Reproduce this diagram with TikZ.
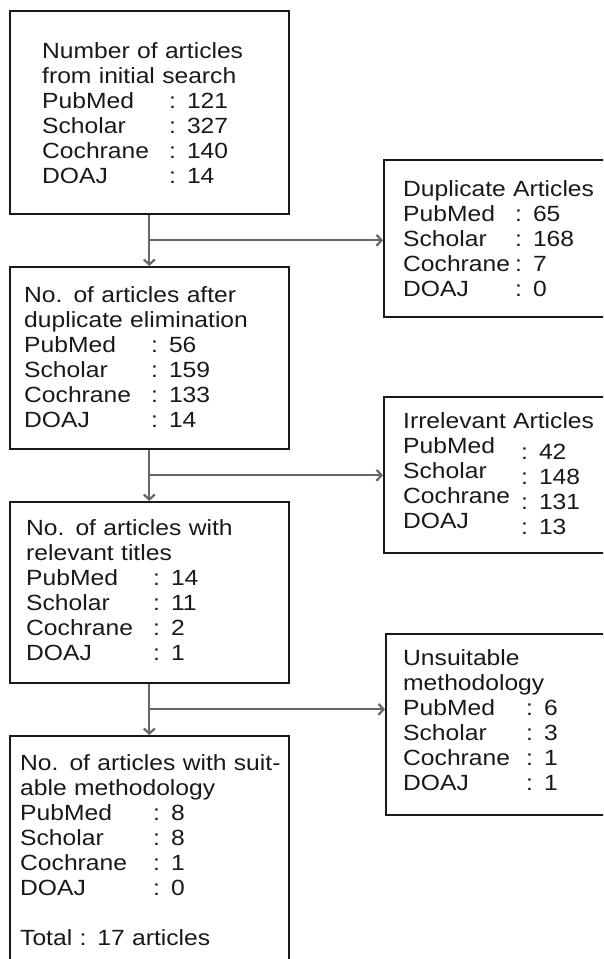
\documentclass[tikz,border=0pt]{standalone}
\usepackage{fontspec}
\setmainfont[FakeStretch=1.12]{Liberation Sans}
\usetikzlibrary{arrows.meta}

% one line of a count table: label padded to a fixed width, then the number
\newcommand{\srow}[3]{\makebox[#1][l]{#2}: #3}

\begin{document}
\begin{tikzpicture}[x=1pt, y=-1pt, >={Straight Barb[length=5pt,width=11pt]}]
  \tikzset{
    stagebox/.style={draw=black!90, line width=1.6pt, minimum width=279pt, anchor=north west, inner sep=0pt},
    sidebox/.style={stagebox, minimum width=260pt},
    stagetext/.style={anchor=base west, inner sep=0pt, text width=300pt, align=left,
      text=black!90, font=\fontsize{22}{25}\selectfont},
    flow/.style={draw=black!60, line width=2.2pt},
  }
  \path[use as bounding box, clip] (0,0) rectangle (603,959);

  % main column
  \node[stagebox, minimum height=203pt] (search) at (9,10) {};
  \node[stagetext] (searchtxt) at (42,58) {Number of articles\\from initial search\\
    \srow{127pt}{PubMed}{121}\\\srow{127pt}{Scholar}{327}\\
    \srow{127pt}{Cochrane}{140}\\\srow{127pt}{DOAJ}{14}};

  \node[stagebox, minimum height=182pt] (dedup) at (9,266) {};
  \node[stagetext] (deduptxt) at (24,302) {No. of articles after\\duplicate elimination\\
    \srow{127pt}{PubMed}{56}\\\srow{127pt}{Scholar}{159}\\
    \srow{127pt}{Cochrane}{133}\\\srow{127pt}{DOAJ}{14}};

  \node[stagebox, minimum height=181pt] (titles) at (9,501) {};
  \node[stagetext] (titlestxt) at (26,535) {No. of articles with\\relevant titles\\
    \srow{127pt}{PubMed}{14}\\\srow{127pt}{Scholar}{11}\\
    \srow{127pt}{Cochrane}{2}\\\srow{127pt}{DOAJ}{1}};

  \node[stagebox, minimum height=300pt] (method) at (9,735) {};
  \node[stagetext] (methodtxt) at (20,770) {No. of articles with suit-\\able methodology\\
    \srow{133pt}{PubMed}{8}\\\srow{133pt}{Scholar}{8}\\
    \srow{133pt}{Cochrane}{1}\\\srow{133pt}{DOAJ}{0}\\[25pt]
    Total : 17 articles};

  % excluded articles
  \node[sidebox, minimum height=157pt] (dupl) at (383,159) {};
  \node[stagetext] (dupltxt) at (403,196) {Duplicate Articles\\
    \srow{112pt}{PubMed}{65}\\\srow{112pt}{Scholar}{168}\\
    \srow{112pt}{Cochrane}{7}\\\srow{112pt}{DOAJ}{0}};

  \node[sidebox, minimum height=156pt] (irrel) at (383,396) {};
  \node[stagetext] (irreltxt) at (403,428) {Irrelevant Articles\\
    \makebox[118pt][l]{PubMed}\raisebox{-6pt}{: 42}\\
    \makebox[118pt][l]{Scholar}\raisebox{-6pt}{: 148}\\
    \makebox[118pt][l]{Cochrane}\raisebox{-6pt}{: 131}\\
    \makebox[118pt][l]{DOAJ}\raisebox{-6pt}{: 13}};

  \node[sidebox, minimum height=181pt] (unsuit) at (385,633) {};
  \node[stagetext] (unsuittxt) at (403,665) {Unsuitable\\methodology\\
    \srow{123pt}{PubMed}{6}\\\srow{123pt}{Scholar}{3}\\
    \srow{123pt}{Cochrane}{1}\\\srow{123pt}{DOAJ}{1}};

  % connectors
  \draw[flow, ->] (search.south) -- coordinate (split1) (dedup.north);
  \draw[flow, ->] (split1) -- (split1 -| dupl.west);
  \draw[flow, ->] (dedup.south) -- coordinate (split2) (titles.north);
  \draw[flow, ->] (split2) -- (split2 -| irrel.west);
  \draw[flow, ->] (titles.south) -- coordinate (split3) (method.north);
  \draw[flow, ->] (split3) -- (split3 -| unsuit.west);
\end{tikzpicture}
\end{document}
